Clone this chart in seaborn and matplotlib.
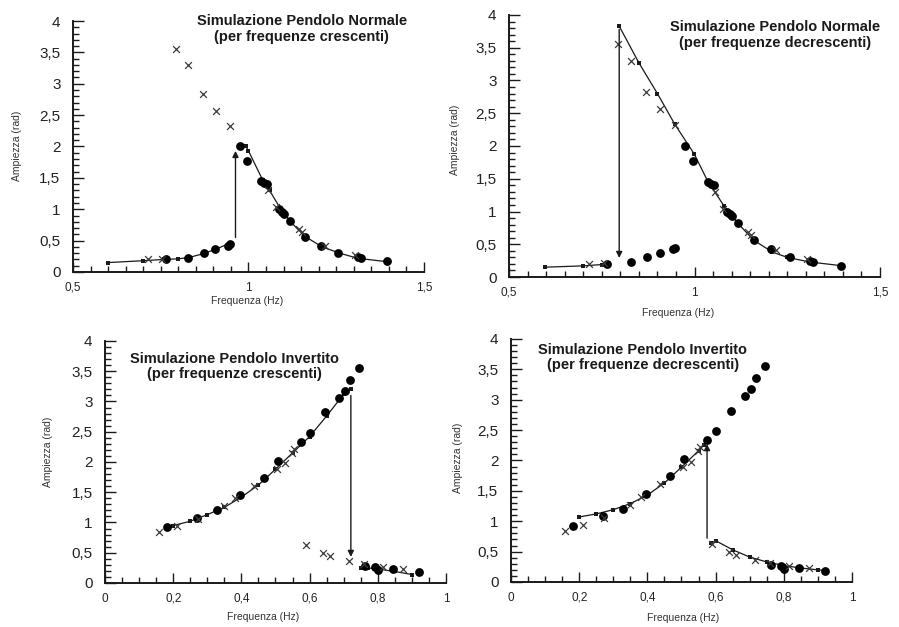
import numpy as np
import pandas as pd
import matplotlib
matplotlib.use("Agg")
import matplotlib.pyplot as plt
import seaborn as sns
from matplotlib.ticker import MultipleLocator, FixedLocator, FixedFormatter

# ---------------- data ----------------
# Normal pendulum: experimental points (shared by both top panels)
norm_circ_f = [0.765, 0.829, 0.873, 0.906, 0.942, 0.947, 0.975, 0.997, 1.035, 1.045, 1.052,
               1.088, 1.095, 1.102, 1.118, 1.161, 1.207, 1.256, 1.312, 1.320, 1.396]
norm_circ_a = [0.20, 0.23, 0.30, 0.37, 0.42, 0.45, 2.00, 1.77, 1.45, 1.42, 1.40,
               1.00, 0.96, 0.93, 0.82, 0.56, 0.42, 0.31, 0.24, 0.23, 0.17]
norm_cross_f = [0.715, 0.755, 0.794, 0.829, 0.870, 0.908, 0.948, 1.055, 1.077, 1.143, 1.152, 1.219, 1.304]
norm_cross_a = [0.20, 0.21, 3.55, 3.30, 2.83, 2.56, 2.32, 1.30, 1.04, 0.68, 0.64, 0.41, 0.27]

# Normal pendulum simulation, increasing frequency (two branches)
norm_inc_lo_f = [0.60, 0.70, 0.76, 0.80, 0.83, 0.87, 0.905, 0.948]
norm_inc_lo_a = [0.15, 0.18, 0.20, 0.21, 0.23, 0.29, 0.36, 0.46]
norm_inc_hi_f = [0.975, 0.992, 1.00, 1.04, 1.06, 1.09, 1.12, 1.16, 1.21, 1.26, 1.31, 1.40]
norm_inc_hi_a = [2.00, 2.01, 1.93, 1.47, 1.30, 1.02, 0.80, 0.57, 0.40, 0.30, 0.22, 0.16]

# Normal pendulum simulation, decreasing frequency (two branches)
norm_dec_lo_f = [0.596, 0.70, 0.75, 0.77]
norm_dec_lo_a = [0.15, 0.17, 0.19, 0.19]
norm_dec_hi_f = [0.797, 0.85, 0.90, 0.947, 0.999, 1.035, 1.08, 1.12, 1.16, 1.21, 1.25, 1.31, 1.40]
norm_dec_hi_a = [3.83, 3.27, 2.80, 2.33, 1.88, 1.47, 1.08, 0.80, 0.56, 0.38, 0.30, 0.23, 0.17]

# Inverted pendulum: experimental points (shared by both bottom panels)
inv_circ_f = [0.181, 0.270, 0.328, 0.397, 0.467, 0.508, 0.574, 0.600, 0.646, 0.686, 0.703,
              0.719, 0.746, 0.763, 0.793, 0.802, 0.845, 0.920]
inv_circ_a = [0.92, 1.08, 1.20, 1.45, 1.74, 2.02, 2.33, 2.48, 2.82, 3.06, 3.18,
              3.35, 3.56, 0.28, 0.26, 0.22, 0.23, 0.18]
inv_cross_f = [0.158, 0.211, 0.273, 0.350, 0.382, 0.436, 0.503, 0.528, 0.547, 0.553,
               0.589, 0.640, 0.659, 0.716, 0.761, 0.816, 0.875]
inv_cross_a = [0.84, 0.94, 1.05, 1.27, 1.40, 1.61, 1.89, 1.98, 2.15, 2.22,
               0.63, 0.50, 0.44, 0.36, 0.31, 0.26, 0.23]

# Inverted pendulum simulation, increasing frequency
inv_inc_lo_f = [0.20, 0.25, 0.30, 0.35, 0.40, 0.45, 0.50, 0.55, 0.60, 0.65, 0.70, 0.72]
inv_inc_lo_a = [0.95, 1.02, 1.13, 1.25, 1.42, 1.62, 1.88, 2.15, 2.42, 2.76, 3.12, 3.20]
inv_inc_hi_f = [0.75, 0.77, 0.80, 0.85, 0.90]
inv_inc_hi_a = [0.25, 0.25, 0.23, 0.19, 0.14]

# Inverted pendulum simulation, decreasing frequency
inv_dec_lo_f = [0.20, 0.25, 0.30, 0.35, 0.40, 0.45, 0.50, 0.55, 0.565]
inv_dec_lo_a = [1.07, 1.12, 1.19, 1.29, 1.43, 1.63, 1.89, 2.16, 2.25]
inv_dec_hi_f = [0.588, 0.60, 0.65, 0.70, 0.75, 0.80, 0.85, 0.90, 0.92]
inv_dec_hi_a = [0.64, 0.68, 0.53, 0.41, 0.33, 0.27, 0.23, 0.20, 0.19]

# Jump arrows (frequency, start amplitude, end amplitude)
jump_f = [0.963, 0.797, 0.721, 0.575]
jump_from = [0.55, 3.78, 3.10, 0.72]
jump_to = [1.93, 0.29, 0.43, 2.27]

titles = ["Simulazione Pendolo Normale\n(per frequenze crescenti)",
          "Simulazione Pendolo Normale\n(per frequenze decrescenti)",
          "Simulazione Pendolo Invertito\n(per frequenze crescenti)",
          "Simulazione Pendolo Invertito\n(per frequenze decrescenti)"]
y_ticks = [0, 0.5, 1, 1.5, 2, 2.5, 3, 3.5, 4]
y_ticklabels = ["0", "0,5", "1", "1,5", "2", "2,5", "3", "3,5", "4"]
x_ticks_norm = [0.5, 1.0, 1.5]
x_ticklabels_norm = ["0,5", "1", "1,5"]
x_ticks_inv = [0, 0.2, 0.4, 0.6, 0.8, 1.0]
x_ticklabels_inv = ["0", "0,2", "0,4", "0,6", "0,8", "1"]
xlabel = "Frequenza (Hz)"
ylabel = "Ampiezza (rad)"

# ---------------- figure ----------------
sns.set_style("white")
plt.rcParams["font.family"] = ["Liberation Sans", "DejaVu Sans"]

fig = plt.figure(figsize=(8.99, 6.27), dpi=100)
positions = [
    [0.0812, 0.5662, 0.3904, 0.4003],
    [0.5662, 0.5582, 0.4127, 0.4179],
    [0.1168, 0.0702, 0.3793, 0.3860],
    [0.5684, 0.0718, 0.3793, 0.3876],
]
title_xy = [(301.7, 29), (775, 35), (234.7, 366.5), (643, 357.5)]
ylabel_xy = [(17, 146), (455, 140), (48, 452), (458, 458)]
xlabel_xy = [(247, 301), (678, 313), (263, 617), (683, 618)]

sim = [
    (norm_inc_lo_f, norm_inc_lo_a, norm_inc_hi_f, norm_inc_hi_a),
    (norm_dec_lo_f, norm_dec_lo_a, norm_dec_hi_f, norm_dec_hi_a),
    (inv_inc_lo_f, inv_inc_lo_a, inv_inc_hi_f, inv_inc_hi_a),
    (inv_dec_lo_f, inv_dec_lo_a, inv_dec_hi_f, inv_dec_hi_a),
]

W, H = 899, 627
for i in range(4):
    ax = fig.add_axes(positions[i])
    normal = i < 2
    cf, ca = (norm_circ_f, norm_circ_a) if normal else (inv_circ_f, inv_circ_a)
    xf, xa = (norm_cross_f, norm_cross_a) if normal else (inv_cross_f, inv_cross_a)
    lo_f, lo_a, hi_f, hi_a = sim[i]
    df_line = pd.DataFrame({
        "f": list(lo_f) + list(hi_f),
        "a": list(lo_a) + list(hi_a),
        "seg": [0] * len(lo_f) + [1] * len(hi_f),
    })
    sns.lineplot(data=df_line, x="f", y="a", units="seg", estimator=None, sort=False,
                 color="#1a1a1a", linewidth=0.9, marker="s", markersize=3.2,
                 markeredgewidth=0, ax=ax, zorder=3)
    sns.scatterplot(x=cf, y=ca, marker="o", s=40, color="black", edgecolor="black",
                    linewidth=0, ax=ax, zorder=4)
    sns.scatterplot(x=xf, y=xa, marker="x", s=24, color="#3a3a3a", linewidth=0.9,
                    ax=ax, zorder=5)
    ax.annotate("", xy=(jump_f[i], jump_to[i]), xytext=(jump_f[i], jump_from[i]),
                arrowprops=dict(arrowstyle="-|>", color="#1a1a1a", lw=1.0,
                                mutation_scale=9, shrinkA=0, shrinkB=0), zorder=6)

    if normal:
        ax.set_xlim(0.5, 1.5)
        ax.xaxis.set_major_locator(FixedLocator(x_ticks_norm))
        ax.xaxis.set_major_formatter(FixedFormatter(x_ticklabels_norm))
    else:
        ax.set_xlim(0, 1)
        ax.xaxis.set_major_locator(FixedLocator(x_ticks_inv))
        ax.xaxis.set_major_formatter(FixedFormatter(x_ticklabels_inv))
    ax.xaxis.set_minor_locator(MultipleLocator(0.05))
    ax.set_ylim(0, 4)
    ax.yaxis.set_major_locator(FixedLocator(y_ticks))
    ax.yaxis.set_major_formatter(FixedFormatter(y_ticklabels))
    ax.yaxis.set_minor_locator(MultipleLocator(0.1))

    for s in ["top", "right"]:
        ax.spines[s].set_visible(False)
    for s in ["left", "bottom"]:
        ax.spines[s].set_color("#1a1a1a")
        ax.spines[s].set_linewidth(1.4)
    ax.tick_params(axis="both", which="both", direction="in", color="#1a1a1a", width=1.0,
                   bottom=True, left=True, top=False, right=False)
    ax.tick_params(axis="x", which="major", length=7, labelsize=8.5, pad=7)
    ax.tick_params(axis="x", which="minor", length=4)
    ax.tick_params(axis="y", which="major", length=8, labelsize=11, pad=9)
    ax.tick_params(axis="y", which="minor", length=4)
    for lab in ax.get_xticklabels() + ax.get_yticklabels():
        lab.set_color("#222222")
    ax.set_xlabel("")
    ax.set_ylabel("")

    tx, ty = title_xy[i]
    fig.text(tx / W, 1 - ty / H, titles[i], ha="center", va="center",
             fontsize=10.5, fontweight="bold", color="#1a1a1a", linespacing=1.1)
    lx, ly = ylabel_xy[i]
    fig.text(lx / W, 1 - ly / H, ylabel, ha="center", va="center", rotation=90,
             fontsize=7.5, color="#333333")
    bx, by = xlabel_xy[i]
    fig.text(bx / W, 1 - by / H, xlabel, ha="center", va="center",
             fontsize=7.5, color="#333333")

fig.savefig("out.png", dpi=100, facecolor="white")
